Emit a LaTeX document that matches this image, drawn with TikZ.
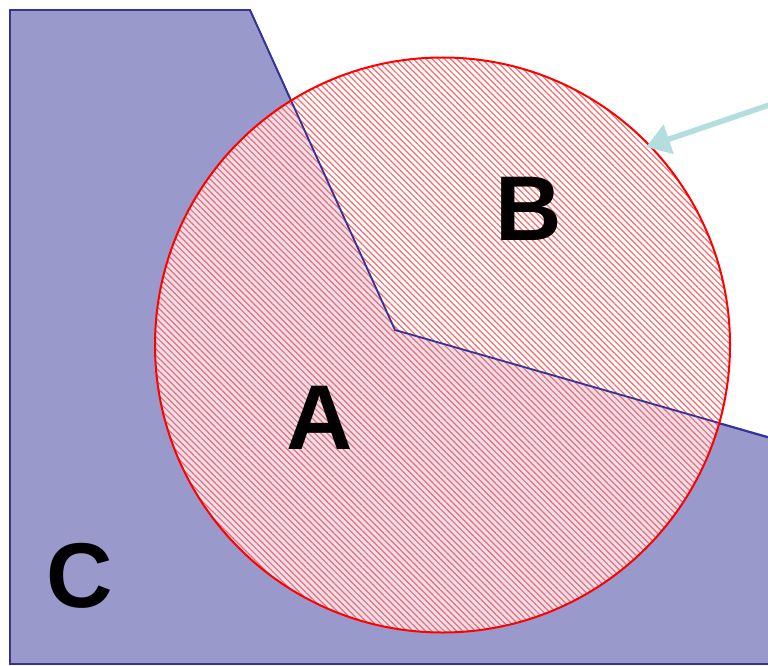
\documentclass[tikz,border=0pt]{standalone}
\usepackage{fontspec}
\setmainfont{Liberation Sans}
\usetikzlibrary{patterns.meta,arrows.meta}
\definecolor{regfill}{HTML}{9999CC}
\definecolor{regline}{HTML}{333399}
\definecolor{arrowc}{HTML}{B4DDE0}
\tikzset{
  region/.style={fill=regfill,draw=regline,line width=1.3pt,line join=miter},
  lbl/.style={font=\fontsize{92}{92}\selectfont\bfseries,text=black,inner sep=0pt},
  pointer/.style={draw=arrowc,line width=5.5pt,-{Triangle[length=24pt,width=30pt]}}
}
\begin{document}
\begin{tikzpicture}[x=1pt,y=-1pt]
\useasboundingbox (0,0) rectangle (768,666);
\begin{scope}
\clip (0,0) rectangle (768,666);
\fill[regfill] (10,10) -- (250,10) -- (395,330) -- (780,441) -- (780,664) -- (10,664) -- cycle;
\draw[regline,line width=1.6pt] (780,441) -- (395,330) -- (250,10) -- (10,10) -- (10,664) -- (780,664);
\coordinate (cc) at (442.5,345);
\fill[white,opacity=0.72] (cc) circle[radius=287.5];
\fill[pattern={Lines[angle=-45,distance=4.4pt,line width=1.2pt]},pattern color=red!60] (cc) circle[radius=287.5];
\draw[regline,line width=1.8pt] (768,437) -- (395,330) -- (250,10);
\draw[red,line width=2pt] (cc) circle[radius=287.5];
\end{scope}
\coordinate (tail) at (772,104);
\coordinate (head) at (646,147);
\draw[pointer] (tail) -- (head);
\node[lbl] (A) at (320,418) {A};
\node[lbl] (B) at (529,209) {B};
\node[lbl] (C) at (80,576) {C};
\end{tikzpicture}
\end{document}
